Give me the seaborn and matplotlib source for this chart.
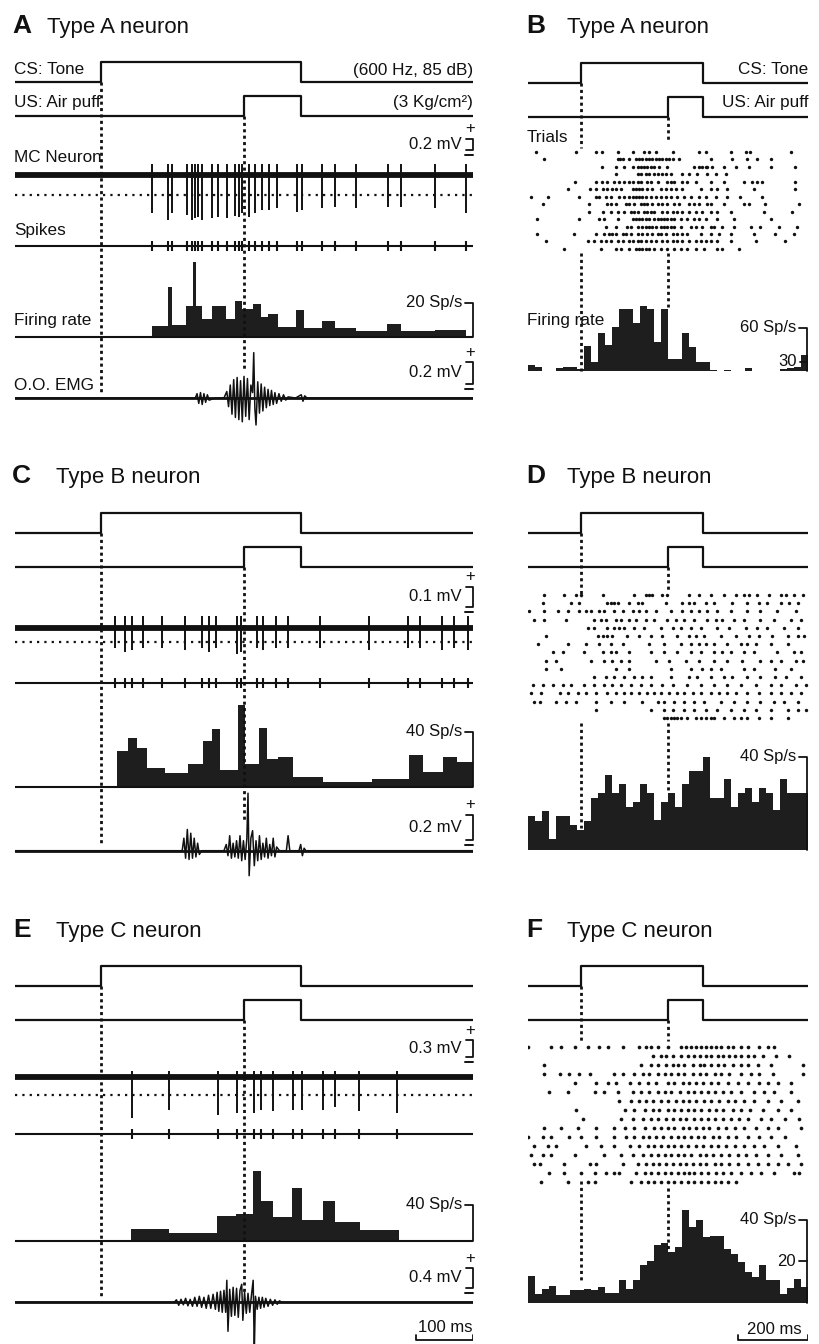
import numpy as np
import pandas as pd
import matplotlib
matplotlib.use('Agg')
import matplotlib.pyplot as plt
import seaborn as sns

sns.set_theme(style="white")
plt.rcParams['font.family'] = ['Liberation Sans', 'DejaVu Sans']

INK = '#111111'
FILL = '#1e1e1e'

# trial timing in ms, CS onset = 0
T_START, T_END = -150, 650
CS_ON, CS_OFF = 0, 350
US_ON, US_OFF = 250, 350
BIN_MS = 20

# ---------------- A: type A neuron, single trial ----------------
a_spikes = [89, 118, 124, 150, 160, 164, 169, 176, 194, 205, 220, 234, 241, 247,
            258, 269, 281, 293, 307, 342, 351, 387, 409, 446, 502, 525, 584, 638]
a_spike_mv = [0.72, 0.85, 0.72, 0.75, 0.85, 0.81, 0.79, 0.85, 0.81, 0.79, 0.81, 0.77, 0.79, 0.72,
              0.79, 0.72, 0.66, 0.66, 0.62, 0.70, 0.66, 0.62, 0.60, 0.62, 0.60, 0.60, 0.62, 0.72]
a_rate_edges = [89, 118, 125, 149, 161.5, 167, 177, 193.5, 218.5, 234, 246, 266, 279,
                292.5, 310, 341, 355, 387, 409, 446, 499, 525, 584, 638]
a_rate = [6.5, 29.4, 7.3, 18, 44, 18, 10.4, 18, 10.8, 21, 16.3, 19.2, 11.8, 13.3,
          5.9, 15.7, 5.5, 9.4, 5.3, 3.5, 7.5, 3.5, 3.9]
a_emg_t = [-150, 165, 168, 171, 174, 177, 180, 183, 186, 189, 200, 215, 220, 223, 226, 229,
           232, 235, 238, 241, 244, 247, 250, 253, 256, 259, 262, 265, 267, 269, 271, 274,
           277, 280, 283, 286, 289, 292, 295, 298, 301, 304, 307, 311, 315, 319, 323, 327,
           340, 350, 353, 356, 360, 650]
a_emg_mv = [0, 0, 0.04, -0.05, 0.05, -0.06, 0.04, -0.04, 0.03, -0.02, 0, 0, 0.06, -0.08, 0.12, -0.15,
            0.17, -0.18, 0.19, -0.2, 0.16, -0.22, 0.2, -0.17, 0.18, -0.2, 0.12, 0.05, 0.42, -0.1, -0.25, 0.15,
            -0.14, 0.13, -0.12, 0.1, -0.09, 0.08, -0.07, 0.07, -0.06, 0.05, -0.05, 0.04, -0.03, 0.03, -0.02, 0.01,
            0, 0.03, -0.03, 0.02, 0, 0]

# ---------------- C: type B neuron, single trial ----------------
c_spikes = [25, 42, 54, 73, 106, 147, 176, 189, 201, 237, 244, 272, 284, 306, 327,
            382, 469, 537, 557, 595, 617, 642]
c_spike_mv = [0.1, 0.12, 0.11, 0.1, 0.1, 0.11, 0.1, 0.12, 0.1, 0.13, 0.12, 0.1, 0.11, 0.1, 0.1,
              0.1, 0.11, 0.1, 0.1, 0.11, 0.1, 0.11]
c_rate_edges = [27.6, 48, 62.5, 80, 112, 151.6, 179, 193.5, 208, 240, 251.7, 276.8, 289.6,
                310, 335, 387.4, 473, 538.7, 562, 598, 621.4, 649.4]
c_rate = [26.1, 35.7, 28.5, 13.7, 10.1, 16.5, 33.3, 41.9, 12.5, 59.2, 16.8, 42.4, 20.4,
          21.6, 7.7, 3.6, 5.7, 23.2, 11.3, 21.6, 18.4]
c_emg_t = [-150, 142, 145, 148, 151, 154, 157, 160, 163, 166, 169, 172, 176, 215, 219, 222,
           225, 228, 231, 234, 237, 240, 243, 246, 249, 252, 255, 257, 259, 262, 265, 268,
           271, 274, 277, 280, 283, 286, 289, 292, 295, 298, 301, 304, 307, 312, 324, 327,
           330, 346, 349, 352, 355, 358, 650]
c_emg_mv = [0, 0, 0.1, -0.06, 0.17, -0.07, 0.14, -0.06, 0.1, -0.05, 0.06, -0.03, 0, 0, 0.05, -0.04,
            0.12, -0.06, 0.06, -0.05, 0.08, -0.06, 0.12, -0.08, 0.08, -0.07, 0.1, 0.46, -0.2, 0.1, 0.16, -0.12,
            0.08, -0.08, 0.12, -0.07, 0.06, -0.05, 0.1, -0.06, 0.05, -0.04, 0.1, -0.05, 0.03, 0, 0, 0.12,
            0, 0, 0.05, -0.04, 0.02, 0, 0]

# ---------------- E: type C neuron, single trial ----------------
e_spikes = [54, 119, 205, 237, 267, 279, 301, 335, 351, 388, 409, 451, 518]
e_spike_mv = [0.74, 0.58, 0.68, 0.65, 0.65, 0.58, 0.61, 0.58, 0.59, 0.58, 0.54, 0.61, 0.65]
e_rate_edges = [52.6, 119.6, 203.4, 236, 266.3, 279.1, 301.2, 333.2, 350.7, 387.4, 408.9, 452.6, 521.3]
e_rate = [13.3, 8.5, 28.1, 30, 78.1, 44.8, 27, 58.5, 23.3, 44.8, 20.7, 12.2]
e_emg_t = [-150, 128, 132, 136, 140, 144, 148, 152, 156, 160, 164, 168, 172, 176, 180, 184,
           188, 192, 196, 200, 203, 206, 209, 212, 215, 218, 220, 222, 225, 228, 231, 234,
           237, 240, 243, 246, 248, 251, 254, 257, 260, 263, 266, 268, 270, 273, 276, 279,
           282, 285, 288, 292, 296, 300, 304, 308, 312, 316, 650]
e_emg_mv = [0, 0, 0.05, -0.06, 0.06, -0.05, 0.08, -0.07, 0.06, -0.08, 0.1, -0.08, 0.12, -0.1, 0.1, -0.12,
            0.14, -0.12, 0.16, -0.14, 0.2, -0.18, 0.22, -0.2, 0.24, -0.2, 0.44, -0.58, 0.26, -0.28, 0.3, -0.26,
            0.28, -0.3, 0.24, 0.36, -0.36, 0.2, -0.22, 0.18, -0.2, 0.14, 0.44, -0.98, 0.12, -0.14, 0.1, -0.12,
            0.1, -0.1, 0.08, -0.08, 0.06, -0.06, 0.05, -0.04, 0.03, 0, 0]

# ---------------- B: type A neuron, raster + PSTH (20 ms bins) ----------------
b_trials = [
    [-127, -13, 44, 60, 106, 149, 180, 196, 215, 263, 339, 358, 430, 472, 484, 600],
    [-103, 106, 113, 120, 139, 158, 167, 177, 186, 196, 205, 215, 224, 234, 243, 253, 263, 281, 372, 434, 477, 505, 543],
    [60, 101, 125, 149, 163, 172, 182, 191, 201, 210, 224, 248, 324, 339, 348, 358, 362, 377, 410, 443, 481, 543, 614],
    [101, 163, 172, 186, 196, 210, 220, 234, 243, 258, 291, 310, 334, 362, 386, 415],
    [-16, 44, 60, 77, 96, 110, 125, 139, 149, 163, 172, 191, 201, 220, 248, 258, 267, 291, 305, 329, 372, 410, 467, 491, 505, 519, 614],
    [-37, 28, 44, 63, 77, 91, 101, 115, 149, 158, 167, 177, 191, 205, 229, 243, 258, 272, 291, 343, 372, 391, 419, 495, 614],
    [-141, -94, -4, 44, 53, 72, 87, 110, 125, 139, 149, 158, 167, 177, 186, 201, 215, 229, 243, 258, 277, 296, 315, 339, 358, 386, 419, 457, 519],
    [-108, 25, 77, 87, 101, 129, 139, 153, 172, 182, 191, 205, 220, 234, 248, 267, 281, 310, 324, 339, 362, 372, 410, 467, 481, 528, 623],
    [25, 63, 87, 106, 125, 144, 153, 163, 182, 191, 201, 210, 234, 248, 263, 277, 291, 310, 329, 348, 372, 391, 430, 524, 604],
    [-123, -4, 53, 68, 106, 149, 158, 167, 177, 186, 196, 210, 220, 229, 239, 248, 258, 267, 286, 305, 324, 339, 358, 391, 438, 543],
    [72, 101, 134, 144, 163, 177, 186, 196, 205, 215, 229, 239, 248, 258, 267, 286, 315, 329, 348, 372, 381, 405, 438, 486, 514, 566, 618],
    [-123, -18, 44, 68, 82, 91, 101, 120, 129, 144, 163, 177, 191, 205, 220, 229, 243, 263, 277, 291, 305, 343, 372, 396, 430, 495, 557, 609],
    [-99, 20, 39, 58, 72, 87, 106, 120, 139, 149, 163, 172, 186, 201, 215, 234, 248, 263, 277, 291, 310, 329, 343, 358, 372, 391, 430, 500, 585],
    [-48, 58, 101, 115, 139, 158, 167, 177, 186, 196, 210, 229, 248, 267, 286, 305, 329, 353, 391, 405, 452],
]
b_rate = [27, 26, 22, 22, 24.5, 25.5, 25.5, 23.5, 44, 30,
          55, 44.5, 60.5, 76, 76, 64, 79, 76, 47, 76,
          33, 33, 55, 43, 30, 30, 23, 22.5, 23, 22,
          22, 24.5, 22, 22, 22, 22, 24, 25, 26, 36]

# ---------------- D: type B neuron, raster + PSTH ----------------
d_trials = [
    [-103, -46, -13, 1, 63, 153, 186, 196, 205, 234, 248, 310, 339, 372, 410, 443, 467, 481, 505, 539, 573, 587, 611, 635],
    [-108, -27, -4, 77, 87, 96, 106, 139, 163, 177, 243, 291, 310, 324, 358, 381, 434, 477, 510, 534, 573, 596, 620],
    [-146, -103, -65, -37, -4, 15, 30, 53, 68, 96, 120, 149, 167, 186, 215, 258, 291, 315, 339, 362, 391, 430, 477, 514, 562, 616],
    [-132, -103, -41, 39, 58, 72, 101, 115, 139, 158, 186, 210, 248, 272, 296, 324, 362, 386, 405, 438, 467, 514, 553, 601, 630],
    [20, 39, 77, 96, 110, 125, 153, 182, 229, 263, 286, 315, 343, 391, 424, 472, 505, 534, 582, 620],
    [-98, 49, 63, 77, 91, 134, 167, 201, 234, 277, 310, 329, 353, 400, 443, 481, 510, 548, 592, 620, 639],
    [-122, -37, 15, 53, 87, 120, 196, 239, 286, 315, 339, 358, 381, 419, 458, 477, 500, 543, 592],
    [-79, -51, 11, 63, 87, 101, 139, 201, 239, 277, 315, 343, 381, 405, 430, 467, 495, 562, 611, 630],
    [-98, -70, 30, 68, 91, 115, 139, 215, 253, 301, 339, 381, 419, 462, 514, 543, 573, 616, 635],
    [-98, -56, 101, 139, 258, 315, 348, 372, 400, 467, 495, 557, 601],
    [39, 72, 96, 125, 153, 177, 201, 258, 310, 334, 372, 410, 434, 477, 514, 557, 587, 630],
    [-136, -108, -79, -51, -27, 11, 39, 68, 91, 115, 144, 172, 201, 234, 263, 305, 343, 381, 419, 458, 500, 543, 573, 616, 644],
    [-141, -113, -60, -37, -8, 15, 44, 77, 101, 125, 144, 167, 191, 210, 229, 253, 277, 296, 320, 343, 372, 396, 419, 443, 477, 510, 543, 573, 601, 630],
    [-132, -117, -70, -41, -13, 44, 87, 125, 177, 220, 239, 267, 296, 324, 353, 400, 438, 477, 514, 553, 582, 620],
    [44, 201, 239, 263, 296, 324, 358, 391, 430, 467, 500, 543, 592, 620, 644],
    [239, 248, 258, 267, 277, 286, 305, 329, 343, 358, 372, 381, 410, 438, 458, 477, 510, 543, 592],
]
d_rate = [14.4, 12.4, 16.5, 4.7, 14.4, 14.4, 10.5, 8.6, 12.4, 22.4,
          24.5, 32.1, 24.5, 28.2, 18.4, 20.6, 28.2, 24.2, 12.7, 20.6,
          24.2, 18.4, 28.2, 34, 34, 39.7, 22.4, 22.4, 30.2, 18.4,
          24.5, 26.3, 20.6, 26.3, 24.5, 17, 30.2, 24.5, 24.5, 24.5]

# ---------------- F: type C neuron, raster + PSTH ----------------
f_trials = [
    [-150, -84, -55, -17, 20, 54, 78, 121, 168, 187, 202, 221, 249, 287, 302, 316, 330, 345, 359, 373, 387, 402, 421, 435, 459, 478, 511, 535, 554],
    [206, 230, 245, 264, 287, 306, 325, 340, 359, 373, 392, 406, 425, 440, 459, 478, 497, 521, 559, 597],
    [-103, 173, 202, 221, 245, 264, 278, 297, 321, 340, 354, 373, 392, 411, 435, 459, 478, 506, 544, 635],
    [-105, -60, -32, -3, 26, 97, 121, 154, 178, 197, 221, 240, 259, 278, 297, 321, 340, 359, 383, 402, 425, 459, 487, 511, 549, 635],
    [-17, 45, 78, 102, 140, 168, 192, 216, 249, 268, 292, 311, 330, 349, 373, 392, 421, 449, 478, 511, 535, 563, 601],
    [-89, -36, 40, 68, 107, 149, 173, 197, 221, 240, 259, 283, 306, 325, 345, 364, 383, 406, 430, 459, 497, 525, 554, 601],
    [111, 145, 168, 187, 206, 230, 249, 273, 292, 311, 330, 354, 373, 397, 421, 440, 468, 497, 535, 573, 621],
    [-12, 126, 154, 183, 206, 225, 249, 268, 287, 306, 325, 345, 368, 387, 406, 435, 459, 483, 521, 563, 601],
    [7, 116, 149, 178, 202, 221, 245, 264, 283, 302, 325, 345, 364, 383, 406, 430, 454, 478, 516, 544, 583, 625],
    [-103, -55, -8, 45, 97, 126, 154, 183, 211, 230, 249, 268, 292, 311, 330, 349, 368, 392, 416, 440, 468, 502, 535, 563, 630],
    [-150, -108, -84, -32, 2, 45, 97, 130, 154, 178, 197, 216, 235, 259, 278, 297, 316, 335, 354, 378, 397, 421, 444, 478, 511, 544, 583],
    [-132, -93, -70, 16, 59, 97, 140, 168, 192, 211, 230, 249, 268, 287, 306, 330, 349, 373, 392, 416, 440, 468, 497, 525, 563, 616],
    [-141, -108, -84, -17, 68, 116, 149, 178, 202, 221, 240, 259, 278, 297, 316, 340, 359, 378, 402, 425, 449, 473, 502, 535, 573, 621],
    [-132, -117, -46, 26, 45, 121, 164, 187, 206, 225, 245, 264, 283, 302, 321, 340, 359, 383, 402, 425, 449, 478, 506, 535, 563, 592, 630],
    [-89, -46, 2, 40, 73, 97, 111, 159, 183, 202, 221, 240, 259, 278, 297, 311, 325, 345, 364, 387, 406, 430, 459, 487, 516, 554, 611, 625],
    [-112, -36, 21, 40, 145, 173, 192, 211, 230, 249, 268, 287, 306, 325, 345, 364, 383, 402, 421, 444],
]
f_rate = [12.7, 4.4, 6.8, 7.9, 3.5, 3.5, 6, 6, 6.8, 6,
          7.6, 4.7, 4.7, 10.8, 6.8, 10.8, 18, 20, 27.7, 29,
          24.5, 27, 44.7, 36.6, 39.8, 31.8, 32, 32, 26, 23.7,
          19.7, 14.8, 12.4, 18, 10.8, 10.8, 4.4, 7.1, 11.6, 7.6]

# ---------------- figure ----------------
W, H = 819, 1344
fig = plt.figure(figsize=(W / 100, H / 100), dpi=100)


def time_axes(x0, x1):
    ax = fig.add_axes([x0 / W, 0, (x1 - x0) / W, 1])
    ax.axis('off')
    return ax


axL = time_axes(15, 473)
axR = time_axes(528, 808)
ov = fig.add_axes([0, 0, 1, 1])
ov.axis('off')


def stim_pair(ax, y_cs, y_us, rise=20):
    for y, on, off in [(y_cs, CS_ON, CS_OFF), (y_us, US_ON, US_OFF)]:
        ax.plot([T_START, on, on, off, off, T_END], [y, y, y - rise, y - rise, y, y],
                color=INK, lw=1.6)


def dotted(ax, t, y0, y1):
    ax.plot([t, t], [y0, y1], color=INK, lw=2.0, ls=(0, (1.1, 1.2)))


def unit_trace(ax, y0, thr_y, spikes, spike_mv, up_mv, px_mv):
    ax.plot([T_START, T_END], [y0, y0], color=INK, lw=4.2, solid_capstyle='butt')
    ax.vlines(spikes, y0 - up_mv * px_mv, y0 + np.asarray(spike_mv) * px_mv, color=INK, lw=1.4)
    ax.plot([T_START, T_END], [thr_y, thr_y], color=INK, lw=1.6, ls=(0, (1, 2.3)))


def spike_row(ax, y, spikes):
    ax.plot([T_START, T_END], [y, y], color=INK, lw=1.5)
    ax.vlines(spikes, y - 5, y + 5, color=INK, lw=1.5)


def rate_steps(ax, y0, edges, vals, px_sp):
    ax.plot([T_START, T_END], [y0, y0], color=INK, lw=1.5)
    v = np.append(vals, vals[-1])
    ax.fill_between(edges, y0, y0 - v * px_sp, step='post', color=FILL, lw=0)


def emg(ax, y0, t, mv, px_mv):
    ax.plot([T_START, T_END], [y0, y0], color=INK, lw=2)
    ax.plot(t, y0 - np.asarray(mv) * px_mv, color=INK, lw=1.1)


def raster(ax, trials, y0, dy, size):
    rows = [(t, y0 + i * dy) for i, trial in enumerate(trials) for t in trial]
    df = pd.DataFrame(rows, columns=['t', 'y'])
    sns.scatterplot(data=df, x='t', y='y', ax=ax, marker='o', s=size,
                    color=INK, linewidth=0, legend=False)


def psth(ax, zero_y, rates, px_sp, floor_y=None):
    edges = T_START + BIN_MS * np.arange(len(rates) + 1)
    top = zero_y - np.append(rates, rates[-1]) * px_sp
    base = zero_y if floor_y is None else floor_y
    top = np.minimum(top, base)
    ax.fill_between(edges, base, top, step='post', color=FILL, lw=0)


def label(x, y, s, ha='left', size=12.3):
    ov.text(x, y, s, ha=ha, va='center', fontsize=size, color=INK)


def title(xl, xt, y, letter, s):
    ov.text(xl, y, letter, fontsize=19, fontweight='bold', va='baseline', color=INK)
    ov.text(xt, y, s, fontsize=16, va='baseline', color=INK)


def mv_bar(x, y_top, length, s):
    ov.plot([x - 7, x, x, x - 7], [y_top, y_top, y_top + length, y_top + length], color=INK, lw=1.3)
    ov.text(x - 3, y_top - 10, '+', ha='center', va='center', fontsize=12, color=INK)
    ov.plot([x - 8, x], [y_top + length + 5] * 2, color=INK, lw=1.4)
    label(x - 11, y_top + length / 2, s, ha='right', size=12)


def rate_bar(x, y_base, length, s, y_end=None):
    y_end = y_base if y_end is None else y_end
    ov.plot([x - 8, x, x], [y_base - length, y_base - length, y_end], color=INK, lw=1.3)
    label(x - 11, y_base - length, s, ha='right', size=12)


# ---- A ----
title(12, 47, 33, 'A', 'Type A neuron')
stim_pair(axL, 82, 116)
unit_trace(axL, 175, 195, a_spikes, a_spike_mv, 0.2, 53)
spike_row(axL, 246, a_spikes)
rate_steps(axL, 337, a_rate_edges, a_rate, 1.7)
emg(axL, 398, a_emg_t, a_emg_mv, 108)
dotted(axL, CS_ON, 82, 393)
dotted(axL, US_ON, 116, 370)
for y, s in [(70, 'CS: Tone'), (103, 'US: Air puff'), (157, 'MC Neuron'), (230, 'Spikes'),
             (321, 'Firing rate'), (385, 'O.O. EMG')]:
    label(14, y, s)
label(473, 70, '(600 Hz, 85 dB)', ha='right')
label(473, 103, '(3 Kg/cm²)', ha='right')
mv_bar(473, 139, 0.2 * 53, '0.2 mV')
rate_bar(473, 337, 20 * 1.7, '20 Sp/s')
mv_bar(473, 362, 0.2 * 108, '0.2 mV')

# ---- C ----
title(12, 56, 483, 'C', 'Type B neuron')
stim_pair(axL, 532.7, 567.3)
unit_trace(axL, 627.7, 641.7, c_spikes, c_spike_mv, 0.06, 200)
spike_row(axL, 682.7, c_spikes)
rate_steps(axL, 787.3, c_rate_edges, c_rate, 1.39)
emg(axL, 850.7, c_emg_t, c_emg_mv, 125)
dotted(axL, CS_ON, 533, 843)
dotted(axL, US_ON, 567, 820)
mv_bar(473, 586.7, 0.1 * 200, '0.1 mV')
rate_bar(473, 787.3, 40 * 1.39, '40 Sp/s')
mv_bar(473, 815, 0.2 * 125, '0.2 mV')

# ---- E ----
title(13, 56, 937, 'E', 'Type C neuron')
stim_pair(axL, 985.7, 1020)
unit_trace(axL, 1077.3, 1095, e_spikes, e_spike_mv, 0.12, 55.6)
spike_row(axL, 1134.3, e_spikes)
rate_steps(axL, 1241, e_rate_edges, e_rate, 0.9)
emg(axL, 1302.3, e_emg_t, e_emg_mv, 50)
dotted(axL, CS_ON, 986, 1297)
dotted(axL, US_ON, 1020, 1292)
mv_bar(473, 1040, 0.3 * 55.6, '0.3 mV')
rate_bar(473, 1241, 40 * 0.9, '40 Sp/s')
mv_bar(473, 1268, 0.4 * 50, '0.4 mV')
axL.plot([550, 550, 650, 650], [1335, 1340, 1340, 1335], color=INK, lw=1.3)
label(473, 1327, '100 ms', ha='right', size=12)

# ---- B ----
title(526, 567, 33, 'B', 'Type A neuron')
stim_pair(axR, 82.7, 116.7)
label(808, 70, 'CS: Tone', ha='right')
label(808, 103, 'US: Air puff', ha='right')
label(527, 137, 'Trials')
label(527, 320, 'Firing rate')
raster(axR, b_trials, 151.7, 7.48, 6)
psth(axR, 396.5, b_rate, 1.15, floor_y=371)
dotted(axR, CS_ON, 83, 148)
dotted(axR, CS_ON, 253, 371)
dotted(axR, US_ON, 117, 140)
dotted(axR, US_ON, 253, 307)
rate_bar(807, 396.5, 60 * 1.15, '60 Sp/s', y_end=371)
ov.plot([800, 807], [396.5 - 30 * 1.15] * 2, color=INK, lw=1.3)
label(797, 396.5 - 30 * 1.15, '30', ha='right', size=12)

# ---- D ----
title(526, 567, 483, 'D', 'Type B neuron')
stim_pair(axR, 533.3, 567.3)
raster(axR, d_trials, 595, 8.2, 6)
psth(axR, 849.5, d_rate, 2.32)
dotted(axR, CS_ON, 533, 597)
dotted(axR, CS_ON, 723, 828)
dotted(axR, US_ON, 567, 592)
dotted(axR, US_ON, 723, 793)
rate_bar(807, 849.5, 40 * 2.32, '40 Sp/s')

# ---- F ----
title(526, 567, 937, 'F', 'Type C neuron')
stim_pair(axR, 985.7, 1020)
raster(axR, f_trials, 1046.7, 9.0, 7)
psth(axR, 1302.7, f_rate, 2.07)
dotted(axR, CS_ON, 986, 1042)
dotted(axR, CS_ON, 1181, 1282)
dotted(axR, US_ON, 1020, 1041)
dotted(axR, US_ON, 1188, 1250)
rate_bar(807, 1302.7, 40 * 2.07, '40 Sp/s')
ov.plot([799, 807], [1302.7 - 20 * 2.07] * 2, color=INK, lw=1.3)
label(796, 1302.7 - 20 * 2.07, '20', ha='right', size=12)
axR.plot([450, 450, 650, 650], [1335, 1340, 1340, 1335], color=INK, lw=1.3)
label(802, 1330, '200 ms', ha='right', size=12)

for ax in (axL, axR):
    ax.set_xlim(T_START, T_END)
    ax.set_ylim(H, 0)
    ax.axis('off')
ov.set_xlim(0, W)
ov.set_ylim(H, 0)

fig.savefig('out.png', dpi=100, facecolor='white')
